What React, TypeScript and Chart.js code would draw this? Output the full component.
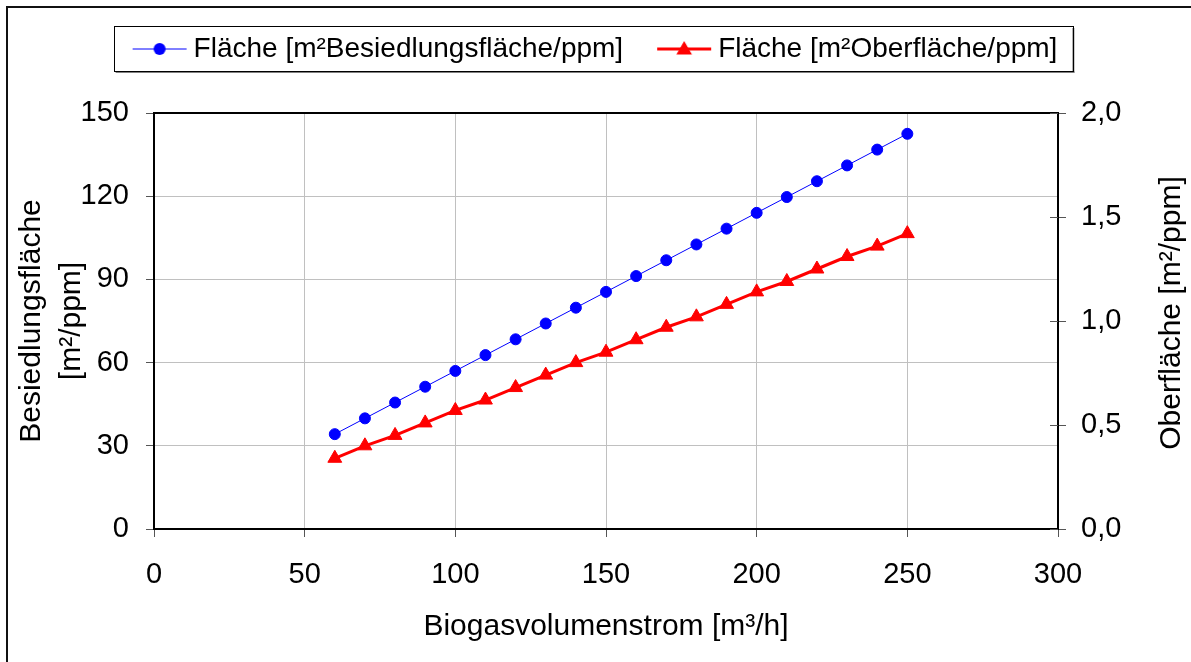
import React, { useEffect, useRef } from 'react';
import { Chart, registerables } from 'chart.js';

Chart.register(...registerables);

// ---- data ----
const flowRates = [60, 70, 80, 90, 100, 110, 120, 130, 140, 150, 160, 170, 180, 190, 200, 210, 220, 230, 240, 250];
const settlementArea = [34.2, 39.9, 45.6, 51.3, 57.0, 62.7, 68.4, 74.1, 79.8, 85.5, 91.2, 96.9, 102.6, 108.3, 114.0, 119.7, 125.4, 131.1, 136.8, 142.5];
const surfaceArea = [0.34, 0.40, 0.45, 0.51, 0.57, 0.62, 0.68, 0.74, 0.80, 0.85, 0.91, 0.97, 1.02, 1.08, 1.14, 1.19, 1.25, 1.31, 1.36, 1.42];
const seriesLabels = ['Fläche [m²Besiedlungsfläche/ppm]', 'Fläche [m²Oberfläche/ppm]'];
const xTitle = 'Biogasvolumenstrom [m³/h]';
const yLeftTitle = ['Besiedlungsfläche', '[m²/ppm]'];
const yRightTitle = 'Oberfläche [m²/ppm]';
const xRange = [0, 300, 50];
const yLeftRange = [0, 150, 30];
const yRightRange = [0, 2, 0.5];

const FONT = "'Liberation Sans', Arial, sans-serif";

function makeIcon(color: string, lineWidth: number, shape: 'circle' | 'triangle') {
  const c = document.createElement('canvas');
  c.width = 66;
  c.height = 22;
  const g = c.getContext('2d')!;
  g.strokeStyle = color;
  g.fillStyle = color;
  g.lineWidth = lineWidth;
  g.beginPath();
  g.moveTo(9, 11);
  g.lineTo(63, 11);
  g.stroke();
  const cx = 36;
  const cy = 11;
  g.beginPath();
  if (shape === 'circle') {
    g.arc(cx, cy, 6, 0, Math.PI * 2);
  } else {
    const r = 9;
    let a = 0;
    g.moveTo(cx + Math.sin(a) * r, cy + 1 - Math.cos(a) * r);
    a += (2 * Math.PI) / 3;
    g.lineTo(cx + Math.sin(a) * r, cy + 1 - Math.cos(a) * r);
    a += (2 * Math.PI) / 3;
    g.lineTo(cx + Math.sin(a) * r, cy + 1 - Math.cos(a) * r);
    g.closePath();
  }
  g.fill();
  return c;
}

export default function App() {
  const ref = useRef<HTMLCanvasElement>(null);

  useEffect(() => {
    const canvas = ref.current!;
    const icons = [makeIcon('#0000ff', 1, 'circle'), makeIcon('#ff0000', 3, 'triangle')];

    const legendFrame = {
      id: 'legendFrame',
      afterDraw(chart: any) {
        const hb = chart.legend?.legendHitBoxes;
        if (!hb || !hb.length) return;
        const first = hb[0];
        const last = hb[hb.length - 1];
        const cy = first.top + first.height / 2;
        const l = first.left - 20;
        const r = last.left + last.width + 15;
        const t = cy - 23;
        const b = cy + 22;
        const ctx = chart.ctx;
        ctx.save();
        ctx.fillStyle = '#808080';
        ctx.fillRect(l + 2, b, r - l, 2);
        ctx.fillRect(r, t + 2, 2, b - t);
        ctx.strokeStyle = '#000';
        ctx.lineWidth = 1;
        ctx.strokeRect(Math.round(l) + 0.5, Math.round(t) + 0.5, Math.round(r - l), Math.round(b - t));
        ctx.restore();
      },
    };

    const rightExtras = {
      id: 'rightExtras',
      afterDraw(chart: any) {
        const s = chart.scales.y2;
        const ctx = chart.ctx;
        ctx.save();
        ctx.strokeStyle = '#555';
        ctx.lineWidth = 1;
        s.ticks.forEach((t: any) => {
          const y = Math.round(s.getPixelForValue(t.value)) + 0.5;
          ctx.beginPath();
          ctx.moveTo(s.left - 8, y);
          ctx.lineTo(s.left, y);
          ctx.stroke();
        });
        const area = chart.chartArea;
        ctx.translate(s.right - 19, (area.top + area.bottom) / 2 - 8);
        ctx.rotate(-Math.PI / 2);
        ctx.fillStyle = '#000';
        ctx.font = `30px ${FONT}`;
        ctx.textAlign = 'center';
        ctx.textBaseline = 'middle';
        ctx.fillText(yRightTitle, 0, 0);
        ctx.restore();
      },
    };

    const tickFont = { family: FONT, size: 29 };

    const chart = new Chart(canvas, {
      type: 'line',
      data: {
        datasets: [
          {
            label: seriesLabels[0],
            data: flowRates.map((x, i) => ({ x, y: settlementArea[i] })),
            yAxisID: 'y',
            borderColor: '#0000ff',
            backgroundColor: '#0000ff',
            borderWidth: 1,
            pointStyle: 'circle',
            pointRadius: 5.5,
            pointBorderWidth: 1,
            pointBackgroundColor: '#0000ff',
            pointBorderColor: '#0000ff',
            fill: false,
          },
          {
            label: seriesLabels[1],
            data: flowRates.map((x, i) => ({ x, y: surfaceArea[i] })),
            yAxisID: 'y2',
            borderColor: '#ff0000',
            backgroundColor: '#ff0000',
            borderWidth: 3,
            pointStyle: 'triangle',
            pointRadius: 8,
            pointBorderWidth: 1,
            pointBackgroundColor: '#ff0000',
            pointBorderColor: '#ff0000',
            fill: false,
          },
        ],
      },
      options: {
        responsive: false,
        animation: false,
        devicePixelRatio: 1,
        layout: { padding: 0 },
        plugins: {
          tooltip: { enabled: false },
          legend: {
            display: true,
            position: 'top',
            align: 'center',
            labels: {
              usePointStyle: true,
              pointStyleWidth: 46,
              padding: 35,
              color: '#000',
              font: { family: FONT, size: 28 },
              generateLabels: (ch: any) =>
                Chart.defaults.plugins.legend.labels.generateLabels(ch).map((l: any, i: number) => ({
                  ...l,
                  pointStyle: icons[i],
                })),
            },
          },
        },
        scales: {
          x: {
            type: 'linear',
            position: 'bottom',
            min: xRange[0],
            max: xRange[1],
            afterFit: (s: any) => {
              s.height = 133;
            },
            ticks: { stepSize: xRange[2], color: '#000', font: tickFont, padding: 21, maxRotation: 0 },
            grid: { color: '#c0c0c0', lineWidth: 1, tickLength: 8, tickColor: '#555', tickWidth: 1 },
            border: { display: true, color: '#000', width: 2 },
            title: {
              display: true,
              text: xTitle,
              color: '#000',
              font: { family: FONT, size: 30 },
              padding: { top: 0, bottom: 17 },
            },
          },
          xTop: {
            type: 'linear',
            position: 'top',
            min: xRange[0],
            max: xRange[1],
            afterFit: (s: any) => {
              s.height = 40;
            },
            ticks: { display: false },
            grid: { display: false, drawTicks: false },
            border: { display: true, color: '#000', width: 2 },
          },
          y: {
            type: 'linear',
            position: 'left',
            min: yLeftRange[0],
            max: yLeftRange[1],
            afterFit: (s: any) => {
              s.width = 154;
            },
            ticks: { stepSize: yLeftRange[2], color: '#000', font: tickFont, padding: 17 },
            grid: { color: '#c0c0c0', lineWidth: 1, tickLength: 8, tickColor: '#555', tickWidth: 1 },
            border: { display: true, color: '#000', width: 2 },
            title: {
              display: true,
              text: yLeftTitle,
              color: '#000',
              font: { family: FONT, size: 30, lineHeight: 1.333 },
              padding: { top: 12, bottom: 0 },
            },
          },
          y2: {
            type: 'linear',
            position: 'right',
            min: yRightRange[0],
            max: yRightRange[1],
            afterFit: (s: any) => {
              s.width = 133;
            },
            ticks: {
              stepSize: yRightRange[2],
              color: '#000',
              font: tickFont,
              padding: 15,
              callback: (v: any) => Number(v).toFixed(1).replace('.', ','),
            },
            grid: { drawOnChartArea: false, tickLength: 8, tickColor: '#555', tickWidth: 1 },
            border: { display: true, color: '#000', width: 2 },
          },
        },
      },
      plugins: [legendFrame, rightExtras],
    } as any);

    return () => chart.destroy();
  }, []);

  return (
    <div style={{ position: 'fixed', left: 0, top: 0, width: 1191, height: 662, background: '#fff', overflow: 'hidden' }}>
      <canvas ref={ref} width={1191} height={662} style={{ position: 'absolute', left: 0, top: 0, width: 1191, height: 662 }} />
      <div
        style={{
          position: 'absolute',
          left: 6,
          top: 6,
          width: 1300,
          height: 800,
          borderTop: '2px solid #111',
          borderLeft: '2px solid #111',
          pointerEvents: 'none',
        }}
      />
    </div>
  );
}
